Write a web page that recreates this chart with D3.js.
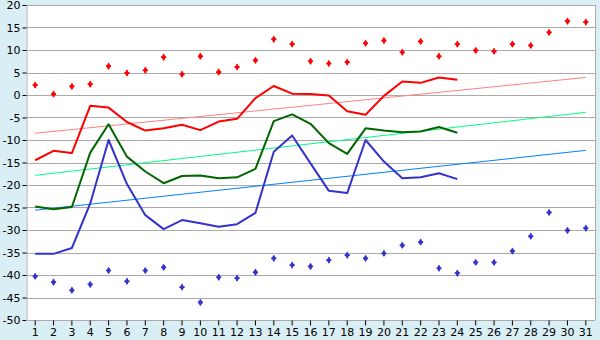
<!DOCTYPE html>
<html>
<head>
<meta charset="utf-8">
<script src="https://d3js.org/d3.v7.min.js"></script>
<style>
  body { margin: 0; background: #daeef5; }
  svg { display: block; }
  text { font-family: "DejaVu Sans", Verdana, sans-serif; font-size: 11px; fill: #000; }
</style>
</head>
<body>
<div id="chart"></div>
<script>
// days of the month
const days = d3.range(1, 32);

// daily values (first 24 days)
const redLine = [-14.5, -12.4, -12.9, -2.4, -2.8, -6.0, -7.9, -7.4, -6.6, -7.8, -5.9, -5.3, -0.7, 2.0, 0.3, 0.2, -0.1, -3.6, -4.4, -0.2, 3.0, 2.7, 3.9, 3.4];
const greenLine = [-24.8, -25.4, -24.9, -12.8, -6.5, -13.7, -17.0, -19.6, -18.0, -17.9, -18.5, -18.3, -16.4, -5.8, -4.3, -6.4, -10.7, -13.1, -7.4, -7.9, -8.3, -8.1, -7.1, -8.4];
const blueLine = [-35.3, -35.3, -34.0, -24.1, -10.0, -19.8, -26.7, -29.8, -27.8, -28.5, -29.3, -28.7, -26.2, -12.6, -9.0, -15.2, -21.3, -21.8, -10.0, -14.8, -18.5, -18.3, -17.4, -18.7];

// extremes for every day
const maxPoints = [2.2, 0.2, 1.9, 2.4, 6.4, 4.9, 5.5, 8.4, 4.6, 8.6, 5.1, 6.2, 7.7, 12.4, 11.3, 7.5, 7.0, 7.3, 11.5, 12.1, 9.5, 11.9, 8.6, 11.3, 9.9, 9.7, 11.3, 11.0, 13.9, 16.4, 16.2];
const minPoints = [-40.3, -41.6, -43.4, -42.1, -39.0, -41.4, -39.0, -38.3, -42.7, -46.1, -40.5, -40.7, -39.4, -36.3, -37.8, -38.1, -36.7, -35.6, -36.3, -35.2, -33.4, -32.7, -38.5, -39.6, -37.2, -37.2, -34.7, -31.4, -26.1, -30.1, -29.6];

// trend lines: value on day 1 and day 31
const redTrend = [-8.5, 3.9];
const greenTrend = [-17.85, -3.85];
const blueTrend = [-25.6, -12.3];

const yTicks = d3.range(-50, 21, 5);

const width = 600, height = 340;
const plotLeft = 26, plotRight = 595, plotTop = 5, plotBottom = 320;

const svg = d3.select("#chart").append("svg")
    .attr("width", width)
    .attr("height", height);

const x = d3.scaleBand().domain(days).range([plotLeft, plotRight]).padding(0);
const y = d3.scaleLinear().domain([-50, 20]).range([plotBottom, plotTop]);
const cx = d => x(d) + x.bandwidth() / 2;

// plot background
svg.append("rect")
    .attr("x", plotLeft).attr("y", plotTop)
    .attr("width", plotRight - plotLeft).attr("height", plotBottom - plotTop)
    .attr("fill", "#fff");

// grid
svg.append("g").selectAll("line")
    .data(yTicks.filter(t => t > -50))
    .join("line")
    .attr("x1", plotLeft).attr("x2", plotRight)
    .attr("y1", d => Math.round(y(d)) + 0.5).attr("y2", d => Math.round(y(d)) + 0.5)
    .attr("stroke", "#aaa");

svg.append("line")
    .attr("x1", plotRight + 0.5).attr("x2", plotRight + 0.5)
    .attr("y1", plotTop).attr("y2", plotBottom)
    .attr("stroke", "#aaa");

// axes
const yAxis = svg.append("g")
    .attr("transform", `translate(${plotLeft + 0.5},0)`)
    .call(d3.axisLeft(y).tickValues(yTicks).tickSize(4).tickPadding(2).tickFormat(d => String(d)));
yAxis.select(".domain").attr("stroke", "#aaa");
yAxis.selectAll(".tick line").attr("stroke", "#000");
yAxis.selectAll("text").style("font-size", "11px").style("font-family", "DejaVu Sans, sans-serif");

const xAxis = svg.append("g")
    .attr("transform", `translate(0,${plotBottom + 0.5})`)
    .call(d3.axisBottom(x).tickSize(5).tickPadding(3));
xAxis.select(".domain").attr("stroke", "#aaa").attr("d", `M${plotLeft},0H${plotRight}`);
xAxis.selectAll(".tick line").attr("stroke", "#000");
xAxis.selectAll("text").style("font-size", "11px").style("font-family", "DejaVu Sans, sans-serif");

// trend lines
const trendLine = d3.line().x(d => cx(d[0])).y(d => y(d[1]));
[[redTrend, "#ff8080"], [greenTrend, "#00ff80"], [blueTrend, "#0080ff"]].forEach(([t, c]) => {
  svg.append("path")
      .datum([[1, t[0]], [31, t[1]]])
      .attr("d", trendLine)
      .attr("fill", "none")
      .attr("stroke", c)
      .attr("stroke-width", 1);
});

// daily lines
const line = d3.line().x((d, i) => cx(days[i])).y(d => y(d));
[[redLine, "#ff0000"], [greenLine, "#006600"], [blueLine, "#3333cc"]].forEach(([s, c]) => {
  svg.append("path")
      .datum(s)
      .attr("d", line)
      .attr("fill", "none")
      .attr("stroke", c)
      .attr("stroke-width", 2)
      .attr("stroke-linejoin", "round");
});

// markers
const marker = d3.symbol().type(d3.symbolDiamond).size(16);
const cross = d3.symbol().type(d3.symbolCross).size(15);
[[maxPoints, "#ff0000"], [minPoints, "#3333cc"]].forEach(([s, c]) => {
  const g = svg.append("g");
  g.selectAll("path.d")
      .data(s)
      .join("path")
      .attr("class", "d")
      .attr("transform", (d, i) => `translate(${cx(days[i])},${y(d)})`)
      .attr("d", marker)
      .attr("fill", c);
  g.selectAll("path.c")
      .data(s)
      .join("path")
      .attr("class", "c")
      .attr("transform", (d, i) => `translate(${cx(days[i])},${y(d)})`)
      .attr("d", cross)
      .attr("fill", c);
});
</script>
</body>
</html>
